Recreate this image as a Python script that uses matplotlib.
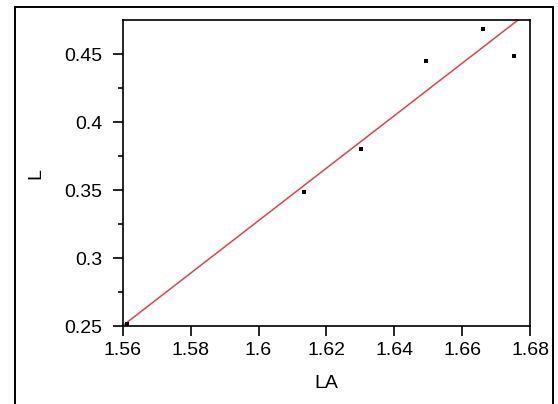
import numpy as np
import matplotlib
matplotlib.use('Agg')
from matplotlib import pyplot as plt
from matplotlib.patches import Rectangle

############# Data ############
LA = [1.5613, 1.6134, 1.6301, 1.6492, 1.6662, 1.6752]
L = [0.2515, 0.3485, 0.380, 0.445, 0.4686, 0.4488]
x_ticks = [1.56, 1.58, 1.60, 1.62, 1.64, 1.66, 1.68]
x_labels = ['1.56', '1.58', '1.6', '1.62', '1.64', '1.66', '1.68']
y_ticks = [0.25, 0.30, 0.35, 0.40, 0.45]
y_labels = ['0.25', '0.3', '0.35', '0.4', '0.45']
###############################

plt.rcParams['font.family'] = ['Liberation Sans', 'DejaVu Sans']

fig = plt.figure(figsize=(5.58, 4.04), dpi=100)
ax = fig.add_axes([0.22, 0.193, 0.730, 0.757])

# outer frame
fig.patches.append(Rectangle((15/558, -0.05), (553-15)/558, 1.05 - 7/404,
                             transform=fig.transFigure, fill=False,
                             edgecolor='black', linewidth=1.4, clip_on=False))

# linear fit
slope, intercept = np.polyfit(LA, L, 1)
xs = np.array([1.56, 1.68])
ax.plot(xs, slope*xs + intercept, color='#d94452', lw=1.1, zorder=2)

ax.plot(LA, L, 's', color='black', ms=2.4, mew=0, zorder=3)

ax.set_xlim(1.56, 1.68)
ax.set_ylim(0.25, 0.475)
ax.set_xticks(x_ticks)
ax.set_xticklabels(x_labels)
ax.set_yticks(y_ticks)
ax.set_yticklabels(y_labels)
ax.set_yticks([0.275, 0.325, 0.375, 0.425], minor=True)

ax.tick_params(axis='both', which='major', direction='out', length=7.2,
               width=1.2, labelsize=14)
ax.tick_params(axis='x', which='major', pad=4)
ax.tick_params(axis='y', which='major', pad=7.5)
ax.tick_params(axis='y', which='minor', direction='out', length=3.6, width=1.2)
for s in ax.spines.values():
    s.set_linewidth(1.2)

ax.set_xlabel('LA', fontsize=14, labelpad=12)
ax.set_ylabel('L', fontsize=14, labelpad=14)

fig.savefig('out.png', dpi=100)
